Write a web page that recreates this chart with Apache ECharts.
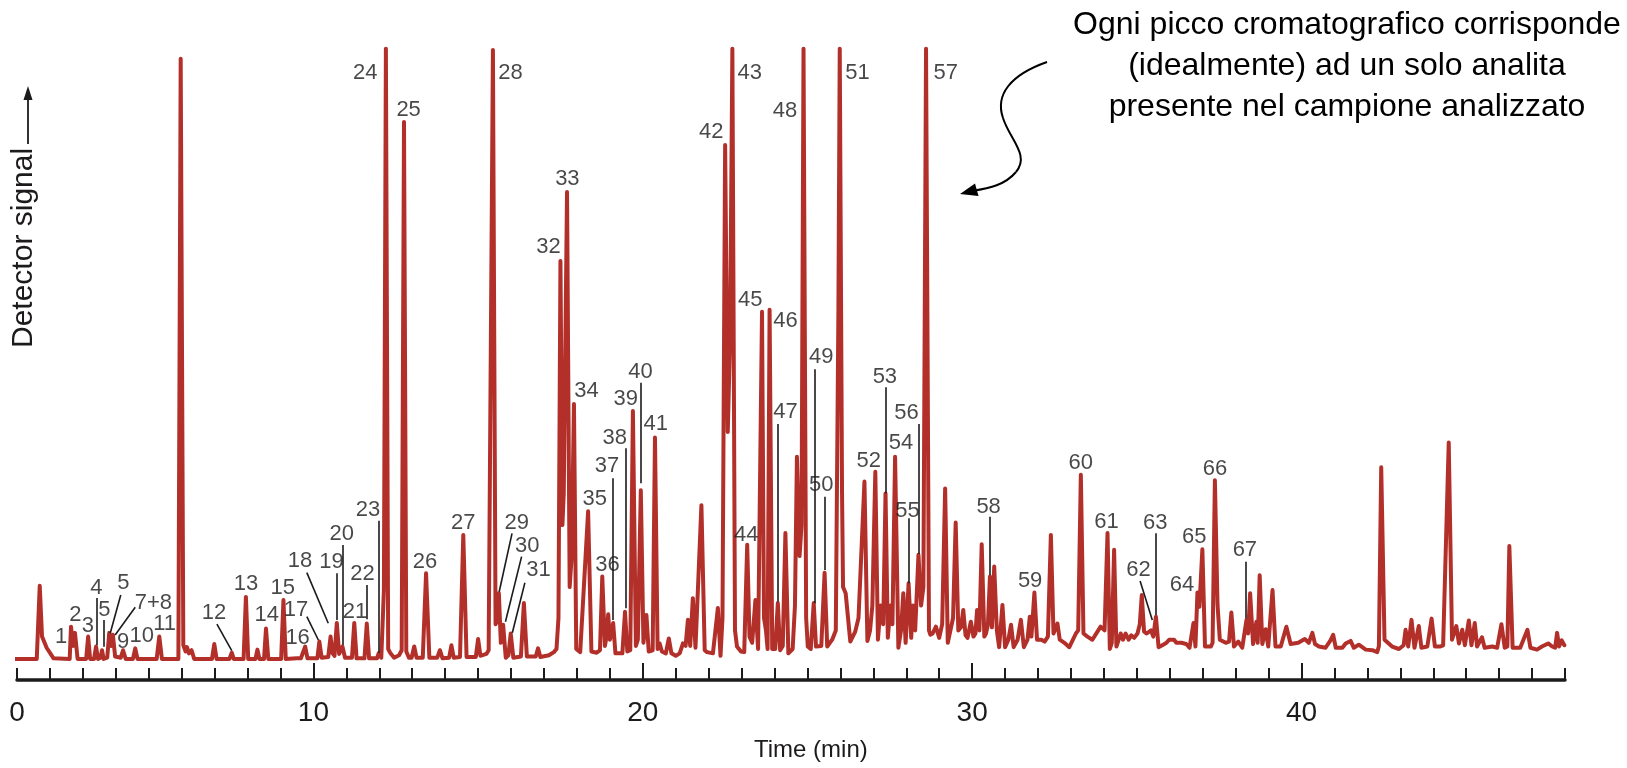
<!DOCTYPE html>
<html>
<head>
<meta charset="utf-8">
<script src="https://cdn.jsdelivr.net/npm/echarts@6/dist/echarts.min.js"></script>
<style>
html,body{margin:0;padding:0;background:#fff;}
#chart{width:1627px;height:768px;}
</style>
</head>
<body>
<div id="chart"></div>
<script>
// Chromatogram trace, [time (min), signal] vertices
const trace0to12 = [[0.95,3.4],[1.6,3.4],[1.69,15.2],[1.76,7.0],[1.9,5.2],[2.11,3.5],[2.6,3.4],[2.64,8.6],[2.7,5.5],[2.76,7.6],[2.84,3.4],[3.1,3.4],[3.16,7.0],[3.22,3.4],[3.34,3.4],[3.4,5.4],[3.46,3.4],[3.54,3.6],[3.58,4.8],[3.63,3.4],[3.74,3.6],[3.8,7.6],[3.86,5.5],[3.91,7.3],[3.98,3.8],[4.15,3.6],[4.22,4.8],[4.3,3.4],[4.52,3.4],[4.59,5.1],[4.66,3.4],[5.24,3.4],[5.32,7.0],[5.4,3.4],[5.9,3.4],[5.97,100.2],[6.05,5.6],[6.12,4.6],[6.16,5.3],[6.22,4.3],[6.3,4.8],[6.38,3.4],[6.92,3.4],[6.99,5.8],[7.06,3.4],[7.45,3.4],[7.52,4.4],[7.58,3.4],[7.88,3.4],[7.95,13.4],[8.02,3.4],[8.24,3.4],[8.3,4.9],[8.36,3.4],[8.5,3.4],[8.56,8.3],[8.63,3.4],[9.02,3.4],[9.09,12.9],[9.16,3.4],[9.5,3.5],[9.56,3.8],[9.62,3.5],[9.68,3.6],[9.75,5.4],[9.82,3.5],[10.12,3.5],[10.18,6.2],[10.25,3.6],[10.45,3.7],[10.52,7.0],[10.58,4.3],[10.64,3.9],[10.71,9.2],[10.78,4.2],[10.88,5.4],[10.96,3.6],[11.17,3.6],[11.24,9.2],[11.31,3.5],[11.55,3.5],[11.62,9.1],[11.69,3.5],[11.93,3.5],[11.98,4.3],[12.06,3.6]];
const trace12to17 = [[12.1,3.8],[12.14,14.5],[12.2,101.8],[12.27,5.0],[12.34,4.3],[12.45,3.6],[12.6,4.0],[12.68,4.8],[12.75,90.0],[12.82,4.6],[12.9,3.6],[12.98,3.6],[13.06,5.4],[13.13,3.6],[13.32,3.6],[13.42,17.2],[13.52,3.6],[13.76,3.6],[13.84,4.8],[13.92,3.5],[14.12,3.6],[14.19,5.6],[14.26,3.6],[14.45,3.7],[14.55,23.4],[14.65,3.7],[14.93,3.7],[15.0,6.6],[15.07,3.9],[15.25,4.2],[15.32,4.8],[15.38,5.0],[15.45,101.6],[15.53,9.0],[15.58,9.5],[15.63,14.0],[15.69,6.0],[15.76,8.9],[15.84,3.6],[15.92,4.0],[15.99,7.5],[16.07,3.6],[16.3,3.8],[16.39,12.4],[16.48,3.8],[16.75,3.8],[16.82,5.1],[16.89,3.7],[17.15,4.0],[17.3,4.5],[17.38,5.0]];
const trace17to22 = [[17.44,10.0],[17.5,67.6],[17.56,25.0],[17.6,30.0],[17.7,78.7],[17.78,15.0],[17.84,20.0],[17.91,44.5],[17.98,5.0],[18.1,4.5],[18.16,4.2],[18.34,27.2],[18.44,4.6],[18.6,4.4],[18.7,4.8],[18.77,16.7],[18.85,5.5],[18.9,7.0],[18.95,10.6],[19.0,6.5],[19.05,7.5],[19.1,9.2],[19.17,4.3],[19.38,4.3],[19.46,11.0],[19.53,4.6],[19.62,4.8],[19.7,43.4],[19.79,5.5],[19.85,6.5],[19.94,30.6],[20.02,6.0],[20.11,10.5],[20.18,4.6],[20.3,4.8],[20.37,39.1],[20.45,5.0],[20.51,5.9],[20.58,4.6],[20.7,4.3],[20.79,6.7],[20.87,4.3],[21.0,3.9],[21.12,4.3],[21.22,5.9],[21.3,5.5],[21.37,9.7],[21.44,5.5],[21.52,13.2],[21.6,5.2],[21.78,28.2],[21.88,4.8],[21.95,4.5],[22.13,4.3],[22.28,11.6],[22.36,3.9]];
const trace22to29 = [[22.42,10.0],[22.5,86.3],[22.58,40.0],[22.65,55.0],[22.72,101.8],[22.8,8.0],[22.86,5.4],[22.98,4.6],[23.08,4.5],[23.17,21.8],[23.24,7.0],[23.32,6.0],[23.42,12.9],[23.5,5.0],[23.56,5.0],[23.62,59.4],[23.68,10.0],[23.74,8.0],[23.79,5.0],[23.85,59.7],[23.93,5.0],[24.02,5.0],[24.1,12.4],[24.17,4.8],[24.25,5.5],[24.33,23.7],[24.42,4.3],[24.55,5.0],[24.62,12.0],[24.68,36.0],[24.76,20.0],[24.82,25.0],[24.88,101.8],[24.96,10.0],[25.01,5.4],[25.1,5.0],[25.19,12.4],[25.26,5.4],[25.42,5.5],[25.52,17.3],[25.6,5.4],[25.75,6.5],[25.86,8.0],[25.94,60.0],[25.98,101.8],[26.05,30.0],[26.08,15.0],[26.16,14.0],[26.3,6.2],[26.45,7.8],[26.55,10.0],[26.73,32.0],[26.82,6.3],[26.9,8.0],[26.97,12.0],[27.06,33.6],[27.14,6.5],[27.22,12.0],[27.3,9.0],[27.37,30.1],[27.44,6.8],[27.52,12.0],[27.58,9.0],[27.66,36.0],[27.76,5.2],[27.84,8.0],[27.91,14.0],[27.98,6.0],[28.07,15.6],[28.15,6.8],[28.2,12.0],[28.27,8.0],[28.37,20.2],[28.45,12.0],[28.52,15.0],[28.6,101.8],[28.69,8.0],[28.73,7.3],[28.8,7.5],[28.9,8.6],[29.0,6.8],[29.09,9.0],[29.18,30.9],[29.26,6.0],[29.32,5.8],[29.42,10.0]];
const trace29to37 = [[29.5,25.4],[29.58,8.0],[29.66,8.5],[29.73,11.3],[29.8,7.2],[29.86,6.8],[29.96,9.4],[30.04,7.0],[30.1,7.5],[30.15,11.3],[30.22,8.0],[30.29,21.9],[30.37,7.0],[30.42,7.5],[30.48,9.0],[30.54,16.7],[30.6,8.5],[30.67,18.3],[30.75,8.0],[30.82,5.3],[30.92,12.1],[31.0,5.3],[31.1,6.5],[31.18,8.9],[31.26,5.3],[31.38,6.5],[31.48,9.7],[31.57,5.3],[31.68,6.5],[31.75,10.2],[31.8,7.0],[31.89,14.1],[31.97,6.5],[32.1,6.5],[32.2,6.2],[32.3,7.0],[32.39,23.4],[32.47,7.5],[32.52,7.5],[32.59,9.1],[32.66,6.5],[32.8,6.0],[32.95,5.3],[33.15,7.5],[33.22,8.0],[33.3,33.1],[33.38,7.5],[33.5,7.0],[33.65,6.5],[33.9,8.6],[34.02,8.0],[34.11,23.7],[34.18,5.0],[34.24,6.0],[34.31,21.0],[34.38,5.4],[34.45,6.5],[34.51,7.5],[34.58,6.5],[34.66,7.5],[34.75,6.5],[34.83,7.2],[34.92,6.8],[35.02,7.5],[35.09,9.0],[35.15,13.7],[35.22,7.8],[35.3,7.5],[35.36,7.2],[35.43,8.0],[35.5,7.0],[35.58,10.2],[35.66,5.3],[35.8,5.7],[35.9,6.0],[35.98,6.5],[36.13,6.5],[36.2,6.0],[36.35,6.0],[36.5,5.8],[36.6,5.2]];
const trace37to48 = [[36.66,5.4],[36.72,9.2],[36.78,5.4],[36.84,14.1],[36.9,11.8],[36.99,21.1],[37.07,5.4],[37.25,5.4],[37.3,6.0],[37.37,32.2],[37.45,12.1],[37.52,6.5],[37.7,6.0],[37.8,6.2],[37.87,10.9],[37.95,5.4],[38.08,6.2],[38.2,5.2],[38.33,9.7],[38.38,7.5],[38.44,14.0],[38.53,5.8],[38.63,9.4],[38.67,6.0],[38.73,16.9],[38.81,5.8],[38.91,8.2],[38.99,5.4],[39.12,14.5],[39.21,5.4],[39.37,5.4],[39.54,8.6],[39.67,5.8],[39.9,6.0],[40.1,6.6],[40.22,6.0],[40.33,7.6],[40.41,5.8],[40.53,5.4],[40.73,5.2],[40.88,6.4],[40.96,7.3],[41.04,5.2],[41.24,5.2],[41.34,5.9],[41.49,6.3],[41.59,5.2],[41.74,5.7],[41.95,4.9],[42.15,4.8],[42.3,4.5],[42.35,5.5],[42.42,34.3],[42.52,6.5],[42.75,5.4],[42.96,5.0],[43.1,5.6],[43.16,8.1],[43.24,5.4],[43.34,9.7],[43.43,5.2],[43.56,8.7],[43.64,5.2],[43.82,5.4],[43.95,9.9],[44.05,5.4],[44.2,5.4],[44.3,5.6],[44.47,38.3],[44.57,6.5],[44.7,8.7],[44.78,5.9],[44.88,8.1],[44.96,5.6],[45.08,9.6],[45.16,5.6],[45.26,9.2],[45.33,5.4],[45.48,6.9],[45.56,5.2],[45.79,5.4],[45.94,5.2],[46.07,9.0],[46.17,5.2],[46.25,5.4],[46.31,21.6],[46.41,5.2],[46.64,5.2],[46.86,8.1],[46.95,5.2],[47.15,4.9],[47.3,5.4],[47.49,5.9],[47.61,5.4],[47.7,5.2],[47.76,7.6],[47.82,5.4],[47.9,6.4],[47.98,5.6]];

// Peak labels: [text, time, signal] (label centre)
const peakLabels = [["1",2.34,6.98],["2",2.77,10.48],["3",3.15,8.76],["4",3.41,14.79],["5",3.65,11.29],["5",4.23,15.6],["7+8",5.14,12.47],["9",4.22,6.18],["10",4.79,7.1],["11",5.48,9.03],["12",6.98,10.76],["13",7.95,15.44],["14",8.58,10.48],["15",9.07,14.79],["16",9.52,6.73],["17",9.47,11.29],["18",9.59,19.19],["19",10.55,19.08],["20",10.86,23.55],["21",11.26,11.02],["22",11.49,17.1],["23",11.66,27.42],["24",11.57,97.97],["25",12.89,91.94],["26",13.39,19.08],["27",14.55,25.37],["28",15.98,97.97],["29",16.17,25.37],["30",16.49,21.61],["31",16.83,17.74],["32",17.14,69.84],["33",17.71,80.89],["34",18.29,46.61],["35",18.54,29.15],["36",18.93,18.55],["37",18.91,34.52],["38",19.15,38.98],["39",19.48,45.32],["40",19.93,49.73],["41",20.39,41.29],["42",22.08,88.42],["43",23.25,97.97],["44",23.14,23.39],["45",23.26,61.29],["46",24.33,57.95],["47",24.33,43.18],["48",24.32,91.77],["49",25.42,52.15],["50",25.42,31.45],["51",26.52,97.97],["52",26.86,35.37],["53",27.35,48.92],["54",27.84,38.18],["55",28.04,27.31],["56",28.01,43.02],["57",29.2,97.97],["58",30.5,27.95],["59",31.76,16.02],["60",33.3,35.05],["61",34.08,25.53],["62",35.05,17.74],["63",35.56,25.37],["64",36.37,15.32],["65",36.74,23.11],["66",37.37,33.98],["67",38.28,20.97]];

// Leader lines: [time1, signal1, time2, signal2]
const leaderLines = [[3.41,13.23,3.41,5.65],[3.63,9.68,3.63,5.37],[4.15,13.71,3.83,7.53],[4.59,11.73,3.98,7.26],[7.07,9.03,7.52,4.73],[9.8,10.21,10.15,6.45],[9.8,17.31,10.45,9.15],[10.71,17.21,10.71,9.68],[10.89,21.77,10.89,5.65],[11.63,15.32,11.63,9.79],[11.99,25.69,11.99,4.4],[16.03,23.66,15.64,14.24],[16.32,19.89,15.83,9.4],[16.42,15.69,16.04,7.63],[19.1,32.53,19.1,9.68],[19.48,37.37,19.48,11.56],[19.93,47.95,19.93,31.73],[24.1,41.29,24.1,12.63],[25.21,50.11,25.21,12.37],[25.53,29.56,25.53,17.74],[27.37,47.21,27.37,30.11],[28.07,26.08,28.07,15.6],[28.37,41.29,28.37,20.32],[30.52,26.34,30.52,16.94],[35.1,15.97,35.47,9.68],[35.58,23.66,35.58,10.48],[38.31,19.08,38.31,9.95]];

// Axis
const axisLabelValues = [1, 10, 20, 30, 40];
const axisLabelTexts = {1: "0", 10: "10", 20: "20", 30: "30", 40: "40"};
const majorTicks = [10, 20, 30, 40];

const trace = [].concat(trace0to12, trace12to17, trace17to22, trace22to29, trace29to37, trace37to48);

const FONT = '"Liberation Sans", Arial, "DejaVu Sans", sans-serif';
const INK = '#1c1a1b';
const RED = '#b3302a';

const chart = echarts.init(document.getElementById('chart'), null, {renderer: 'canvas'});

const option = {
  animation: false,
  backgroundColor: '#ffffff',
  grid: {left: 17, right: 62, top: 29, bottom: 88, containLabel: false},
  xAxis: [{
    type: 'value', min: 1, max: 48, interval: 1,
    axisLine: {show: true, onZero: false, lineStyle: {color: INK, width: 3.5}},
    axisTick: {show: true, inside: true, length: 12, lineStyle: {color: INK, width: 2}},
    axisLabel: {show: true, customValues: axisLabelValues, margin: 19,
      formatter: v => axisLabelTexts[v] || '', color: INK, fontSize: 28, fontFamily: FONT},
    splitLine: {show: false}
  }, {
    type: 'value', min: 1, max: 48, position: 'bottom',
    axisLine: {show: false, onZero: false},
    axisTick: {show: true, inside: true, length: 17, customValues: majorTicks, lineStyle: {color: INK, width: 2}},
    axisLabel: {show: false},
    splitLine: {show: false}
  }],
  yAxis: {type: 'value', min: 0, max: 105, show: false, splitLine: {show: false}},
  series: [{
    type: 'line', xAxisIndex: 0, data: trace, showSymbol: false, symbol: 'none',
    lineStyle: {color: RED, width: 4, join: 'round', cap: 'round'},
    silent: true, z: 3
  }, {
    type: 'lines', coordinateSystem: 'cartesian2d', xAxisIndex: 0,
    data: leaderLines.map(d => ({coords: [[d[0], d[1]], [d[2], d[3]]]})),
    lineStyle: {color: INK, width: 1.6, opacity: 1}, silent: true, z: 4
  }, {
    type: 'scatter', xAxisIndex: 0, symbolSize: 0,
    data: peakLabels.map(d => ({name: d[0], value: [d[1], d[2]]})),
    label: {show: true, position: 'inside', formatter: p => p.name, color: INK,
      fontSize: 22, fontFamily: FONT, align: 'center', verticalAlign: 'middle'},
    silent: true, z: 5
  }],
  graphic: [
    {type: 'text', x: 754, y: 738, style: {text: 'Time (min)', fill: INK, font: '24px ' + FONT}, z: 10},
    {type: 'text', rotation: Math.PI / 2, x: 9, y: 348,
     style: {text: 'Detector signal', fill: INK, font: '30px ' + FONT, textAlign: 'left', textVerticalAlign: 'top'}, z: 10},
    {type: 'line', shape: {x1: 28, y1: 144, x2: 28, y2: 98}, style: {stroke: INK, lineWidth: 1.8}, z: 10},
    {type: 'polygon', shape: {points: [[28, 86], [23.5, 100], [32.5, 100]]}, style: {fill: INK}, z: 10},
    {type: 'text', x: 1347, y: 5,
     style: {text: 'Ogni picco cromatografico corrisponde\n(idealmente) ad un solo analita\npresente nel campione analizzato',
       fill: '#000', font: '32px ' + FONT, textAlign: 'center', lineHeight: 41}, z: 10},
    {type: 'bezierCurve', shape: {x1: 1047, y1: 62, cpx1: 1010, cpy1: 75, cpx2: 995, cpy2: 95, x2: 1003, y2: 118},
     style: {stroke: '#000', lineWidth: 2, fill: null}, z: 10},
    {type: 'bezierCurve', shape: {x1: 1003, y1: 118, cpx1: 1010, cpy1: 140, cpx2: 1030, cpy2: 155, x2: 1016, y2: 172},
     style: {stroke: '#000', lineWidth: 2, fill: null}, z: 10},
    {type: 'bezierCurve', shape: {x1: 1016, y1: 172, cpx1: 1005, cpy1: 185, cpx2: 990, cpy2: 188, x2: 972, y2: 191},
     style: {stroke: '#000', lineWidth: 2, fill: null}, z: 10},
    {type: 'polygon', shape: {points: [[960, 194], [975, 183.5], [978.5, 196]]}, style: {fill: '#000'}, z: 10}
  ]
};
chart.setOption(option);
</script>
</body>
</html>
